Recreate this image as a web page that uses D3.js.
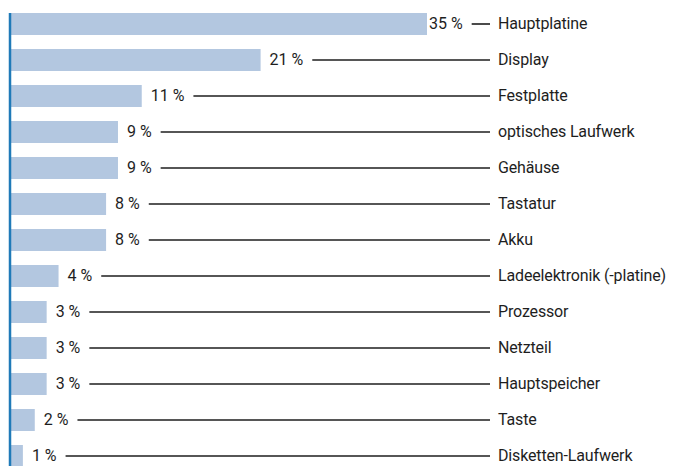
<!DOCTYPE html>
<html>
<head>
<meta charset="utf-8">
<script src="https://cdn.jsdelivr.net/npm/d3@7"></script>
<style>
  html, body { margin: 0; padding: 0; background: #fff; }
  svg text { font-family: Roboto, "DejaVu Sans Condensed", sans-serif; font-size: 16px; fill: #1e1e1e; }
</style>
</head>
<body>
<div id="chart"></div>
<script>
const components = ['Hauptplatine', 'Display', 'Festplatte', 'optisches Laufwerk', 'Gehäuse',
    'Tastatur', 'Akku', 'Ladeelektronik (-platine)', 'Prozessor', 'Netzteil',
    'Hauptspeicher', 'Taste', 'Disketten-Laufwerk'];
const shares = [35, 21, 11, 9, 9, 8, 8, 4, 3, 3, 3, 2, 1];
const shareLabels = ['35 %', '21 %', '11 %', '9 %', '9 %', '8 %', '8 %', '4 %', '3 %', '3 %', '3 %', '2 %', '1 %'];

const width = 694;
const height = 466;
const barLeft = 11;
const lineEnd = 490;
const nameX = 498;

const svg = d3.select('#chart')
  .append('svg')
  .attr('width', width)
  .attr('height', height);

const x = d3.scaleLinear()
  .domain([0, 35])
  .range([barLeft, 427]);

const y = d3.scaleBand()
  .domain(components)
  .range([6, 474])
  .paddingInner(14 / 36)
  .paddingOuter(7 / 36);

const rows = svg.selectAll('g.row')
  .data(components)
  .enter()
  .append('g')
  .attr('class', 'row');

rows.append('rect')
  .attr('x', x(0))
  .attr('y', d => y(d))
  .attr('width', (d, i) => x(shares[i]) - x(0))
  .attr('height', y.bandwidth())
  .attr('fill', '#b3c7e0');

// value label; the biggest bar leaves only a short dash before the name
const valueText = rows.append('text')
  .attr('x', (d, i) => Math.min(x(shares[i]) + 9, lineEnd - 61))
  .attr('y', d => y(d) + y.bandwidth() / 2)
  .attr('dy', '0.3em')
  .text((d, i) => shareLabels[i]);

valueText.each(function (d) {
  const t = d3.select(this);
  const x0 = +t.attr('x') + this.getComputedTextLength() + 9;
  const yy = y(d) + y.bandwidth() / 2;
  d3.select(this.parentNode).append('line')
    .attr('x1', x0)
    .attr('x2', lineEnd)
    .attr('y1', yy)
    .attr('y2', yy)
    .attr('stroke', '#1e1e1e')
    .attr('stroke-width', 1.6);
});

rows.append('text')
  .attr('x', nameX)
  .attr('y', d => y(d) + y.bandwidth() / 2)
  .attr('dy', '0.3em')
  .attr('letter-spacing', '-0.15')
  .text(d => d);

// left axis line
svg.append('line')
  .attr('x1', 10)
  .attr('x2', 10)
  .attr('y1', y(components[0]))
  .attr('y2', height)
  .attr('stroke', '#1f7ab8')
  .attr('stroke-width', 2.5);
</script>
</body>
</html>
